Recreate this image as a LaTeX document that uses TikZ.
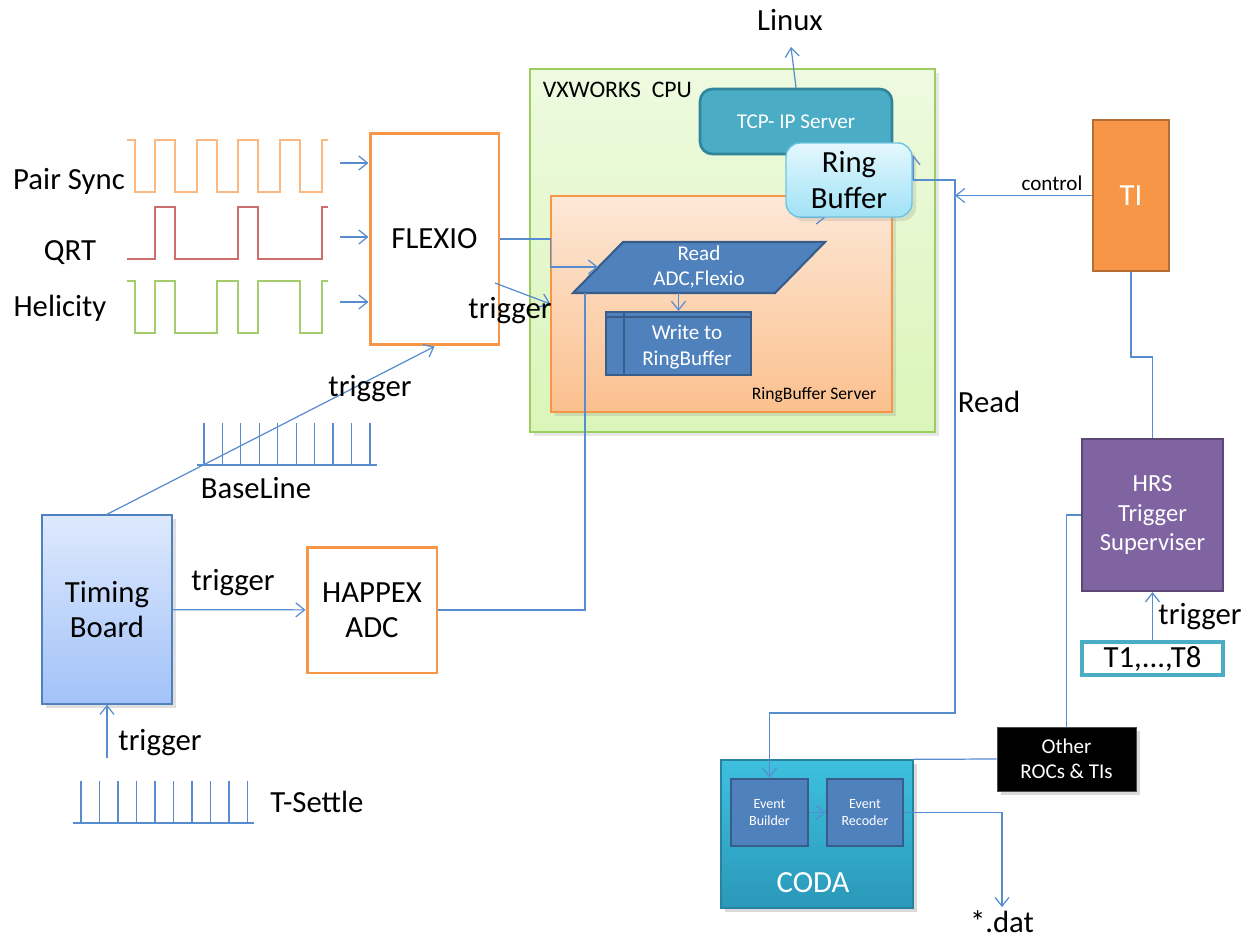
\documentclass[tikz,border=0pt]{standalone}
\usepackage{fontspec}
\setmainfont{Carlito}
\usetikzlibrary{arrows.meta,calc,shadows}

\definecolor{wireblue}{RGB}{88,140,208}
\definecolor{boxorange}{RGB}{247,150,70}
\definecolor{cpuedge}{RGB}{155,205,95}
\definecolor{cputop}{RGB}{238,250,224}
\definecolor{cpubot}{RGB}{218,245,185}
\definecolor{rbtop}{RGB}{253,232,215}
\definecolor{rbbot}{RGB}{251,192,142}
\definecolor{tcpfill}{RGB}{75,172,198}
\definecolor{tcpedge}{RGB}{49,133,155}
\definecolor{ringtop}{RGB}{228,248,254}
\definecolor{ringbot}{RGB}{160,226,246}
\definecolor{ringedge}{RGB}{110,196,226}
\definecolor{procfill}{RGB}{79,129,189}
\definecolor{procedge}{RGB}{56,93,138}
\definecolor{tiedge}{RGB}{182,109,49}
\definecolor{hrsfill}{RGB}{128,100,162}
\definecolor{hrsedge}{RGB}{92,71,118}
\definecolor{codatop}{RGB}{62,192,222}
\definecolor{codabot}{RGB}{42,152,185}
\definecolor{codaedge}{RGB}{40,130,160}
\definecolor{timtop}{RGB}{222,233,253}
\definecolor{timbot}{RGB}{162,194,248}
\definecolor{psyncc}{RGB}{250,184,130}
\definecolor{qrtc}{RGB}{205,110,110}
\definecolor{helc}{RGB}{165,205,110}

\newcommand\fsbig{\fontsize{17.5}{20}\selectfont}
\newcommand\fssub{\fontsize{14}{16.8}\selectfont}
\newcommand\fscpu{\fontsize{13.5}{16}\selectfont}
\newcommand\fsmid{\fontsize{12}{14.5}\selectfont}
\newcommand\fssmall{\fontsize{10}{12}\selectfont}
\newcommand\fstiny{\fontsize{8}{9.2}\selectfont}

\begin{document}
\begin{tikzpicture}[x=0.02cm, y=-0.02cm,
        every node/.style={font=\fsbig, inner sep=2pt},
        wire/.style={draw=wireblue, line width=0.7pt},
        conn/.style={wire, -{Straight Barb[length=5pt,width=8pt]}},
        ioblock/.style={draw=boxorange, line width=1.7pt, fill=white, align=center},
        cpubox/.style={draw=cpuedge, line width=0.8pt, top color=cputop, bottom color=cpubot, drop shadow={opacity=0.2}},
        rbbox/.style={draw=boxorange, line width=0.8pt, top color=rbtop, bottom color=rbbot, drop shadow={opacity=0.2}},
        tcpbox/.style={draw=tcpedge, line width=1.5pt, fill=tcpfill, rounded corners=7pt, text=white, font=\fsmid},
        ringbox/.style={draw=ringedge, line width=0.8pt, top color=ringtop, bottom color=ringbot, rounded corners=8pt, align=center, drop shadow={opacity=0.2}},
        proc/.style={draw=procedge, line width=1.2pt, fill=procfill},
        proctext/.style={font=\fsmid, text=white, align=center},
        evbox/.style={draw=procedge, line width=1.5pt, fill=procfill, text=white, font=\fstiny, align=center},
        timingbox/.style={draw=procfill, line width=0.8pt, top color=timtop, bottom color=timbot, align=center, drop shadow={opacity=0.25}},
        waveline/.style={line width=0.8pt}
    ]
        \useasboundingbox (0,0) rectangle (1256,943);

        \draw[waveline, psyncc] (127,140) -- (135,140) -- (135,192) -- (155,192) -- (155,140) -- (175,140) -- (175,192) -- (197,192) -- (197,140) -- (217,140) -- (217,192) -- (238,192) -- (238,140) -- (258,140) -- (258,192) -- (280,192) -- (280,140) -- (300,140) -- (300,192) -- (322,192) -- (322,140) -- (328,140);
        \draw[waveline, qrtc] (127,259) -- (155,259) -- (155,207) -- (175,207) -- (175,259) -- (238,259) -- (238,207) -- (258,207) -- (258,259) -- (322,259) -- (322,207) -- (328,207);
        \draw[waveline, helc] (127,281) -- (135,281) -- (135,333) -- (155,333) -- (155,281) -- (175,281) -- (175,333) -- (217,333) -- (217,281) -- (238,281) -- (238,333) -- (258,333) -- (258,281) -- (300,281) -- (300,333) -- (322,333) -- (322,281) -- (328,281);
        \node (pairsync) at (69,181) {Pair Sync};
        \node (qrt) at (70,253) {QRT};
        \node (helicity) at (60,308) {Helicity};

        \node[ioblock, minimum width=2.58cm, minimum height=4.24cm] (flexio) at (434.5,239) {FLEXIO};
        \coordinate (psin) at (340,163);
        \coordinate (qrtin) at (340,237);
        \coordinate (helin) at (340,302);
        \foreach \c in {psin,qrtin,helin}
            \draw[conn] (\c) -- (\c -| flexio.west);

        \node[cpubox, minimum width=8.1cm, minimum height=7.26cm] (cpu) at (732.5,250.5) {};
        \node[anchor=west, font=\fscpu] (cpulbl) at (539,90) {VXWORKS\ \ CPU};
        \node[rbbox, minimum width=6.82cm, minimum height=4.32cm] (rbserver) at (721.5,304) {};
        \node[anchor=east, font=\fssmall] (rblbl) at (880,395) {RingBuffer Server};

        \node (linux) at (790,20) {Linux};
        \coordinate (linuxin) at (791,47);
        \node[tcpbox, minimum width=3.84cm, minimum height=1.3cm] (tcp) at (796,121.5) {TCP- IP Server};
        \draw[conn] (tcp.north) -- (linuxin);
        \coordinate (ringlo) at (800,217);
        \coordinate (ringhi) at (913,180);
        \draw[conn] (ringlo) -- ++(26,0);
        \draw[conn] (ringhi) -- ++(0,-25);
        \node[ringbox, minimum width=2.52cm, minimum height=1.48cm] (ring) at (849,180) {Ring\\Buffer};

        \draw[proc] (573,293) -- (623,242) -- (825,242) -- (775,293) -- cycle;
        \node[proctext] (readp) at (699,267) {Read\\ADC,Flexio};
        \coordinate (rdin) at (598,267);
        \coordinate (rdbot) at (585,293);
        \node[proc, minimum width=2.9cm, minimum height=1.26cm] (write) at (678.5,343.5) {};
        \draw[procedge, line width=1.2pt] ($(write.north west)+(0,6)$) -- ($(write.north east)+(0,6)$)
            ($(write.north west)+(19,0)$) -- ($(write.south west)+(19,0)$);
        \node[proctext] (writelbl) at (687,347) {Write to\\RingBuffer};
        \draw[conn] (write.north |- rdbot) -- (write.north);

        \draw[conn] (flexio.east) -- ++(50,0) |- (rdin);
        \coordinate (ftrig) at (495,283);
        \draw[conn] (ftrig) -- (rbserver.west);
        \node (trigflex) at (510,311) {trigger};

        \node[timingbox, minimum width=2.6cm, minimum height=3.78cm] (timing) at (107,609.5) {Timing\\Board};
        \node[ioblock, minimum width=2.6cm, minimum height=2.52cm] (happex) at (372,610) {HAPPEX\\ADC};
        \draw[conn] (timing) -- (happex);
        \node (trigadc) at (233,583) {trigger};
        \draw[wire] (happex.east) -| (rdbot);
        \draw[conn] (timing.north) -- (flexio.south);
        \node (trigbase) at (370,389) {trigger};

        \draw[wire] (197,465) -- (377,465);
        \foreach \i in {0,...,9}
            \draw[wire] ({204+18.44*\i},465) -- ++(0,-42);
        \node (baseline) at (256,488) {BaseLine};

        \coordinate (tsup) at (107,758);
        \draw[conn] (tsup) -- (timing.south);
        \node (trigtime) at (160,743) {trigger};
        \draw[wire] (73,823) -- (254,823);
        \foreach \i in {0,...,9}
            \draw[wire] ({81+18.5*\i},823) -- ++(0,-42);
        \node (tsettle) at (317,802) {T-Settle};

        \node[draw=tiedge, line width=1.2pt, fill=boxorange, text=white, minimum width=1.52cm, minimum height=3.02cm] (ti) at (1131,195.5) {TI};
        \node[draw=hrsedge, line width=1.3pt, fill=hrsfill, text=white, font=\fssub, align=center, minimum width=2.82cm, minimum height=3.04cm] (hrs) at (1152.5,515) {HRS\\Trigger\\Superviser};
        \node[draw=tcpfill, line width=1.8pt, fill=white, minimum width=2.82cm, minimum height=0.66cm, inner sep=0pt] (tbox) at (1152.5,658.5) {T1,...,T8};
        \draw[conn] (tbox.north) -- (hrs.south);
        \node (trighrs) at (1200,617) {trigger};
        \draw[wire] (ti.south) -- ++(0,85) -| (hrs.north);

        \node[draw=black!70, fill=black, text=white, font=\fsmid, align=center, minimum width=2.78cm, minimum height=1.28cm, drop shadow={opacity=0.3}] (other) at (1066.5,759) {Other\\ROCs \& TIs};
        \draw[wire] (hrs.west) -| (other.north);

        \node[draw=codaedge, line width=0.8pt, top color=codatop, bottom color=codabot, minimum width=3.84cm, minimum height=2.96cm, drop shadow={opacity=0.3}] (coda) at (817,834) {};
        \node[text=white] (codalbl) at (813,883) {CODA};
        \node[evbox, minimum width=1.54cm, minimum height=1.34cm] (evb) at (769.5,812.5) {Event\\Builder};
        \node[evbox, minimum width=1.52cm, minimum height=1.34cm] (evr) at (865,812.5) {Event\\Recoder};
        \draw[conn] (evb) -- (evr);
        \draw[wire] (other.west) -- (coda.north east);
        \node (dat) at (1002,922) {*.dat};
        \draw[conn] (evr.east) -| (dat.north);

        \coordinate (rdturn) at (955,713);
        \draw[conn] (ring.east) -| (rdturn) -| (evb.north);
        \node (read) at (989,402) {Read};
        \draw[conn] (ti.west) -- (ti.west -| rdturn);
        \node[font=\fsmid] (control) at (1052,183) {control};
    \end{tikzpicture}
\end{document}
